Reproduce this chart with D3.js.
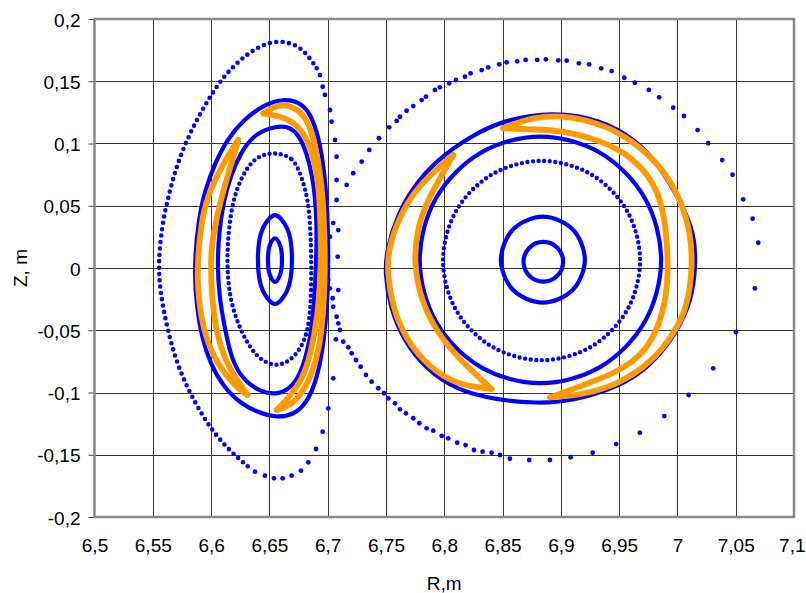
<!DOCTYPE html>
<html>
<head>
<meta charset="utf-8">
<script src="https://cdn.jsdelivr.net/npm/d3@7"></script>
<style>
  body { margin: 0; background: #fff; }
  svg text { font-family: "Liberation Sans", Arial, sans-serif; font-size: 19px; fill: #000; }
</style>
</head>
<body>
<div id="chart"></div>
<script>
// tick values
const xTicks = [6.5, 6.55, 6.6, 6.65, 6.7, 6.75, 6.8, 6.85, 6.9, 6.95, 7, 7.05, 7.1];
const yTicks = [-0.2, -0.15, -0.1, -0.05, 0, 0.05, 0.1, 0.15, 0.2];

// left island, closed curves [R, Z]
const leftCore = [[6.6608,0.0064],[6.659,0.0188],[6.6548,0.0239],[6.6506,0.0188],[6.6488,0.0064],[6.6506,-0.006],[6.6548,-0.0111],[6.659,-0.006]];
const leftRing2 = [[6.6694,0.0068],[6.6651,0.032],[6.6548,0.0425],[6.6445,0.032],[6.6402,0.0068],[6.6445,-0.0184],[6.6548,-0.0289],[6.6651,-0.0184]];
const leftRing3 = [[6.6548,0.0928],[6.6705,0.0894],[6.6777,0.0733],[6.6834,0.0546],[6.6855,0.0279],[6.686,0.001],[6.6858,-0.0257],[6.6831,-0.0538],[6.672,-0.0723],[6.6563,-0.0803],[6.6385,-0.0723],[6.6248,-0.0498],[6.6162,-0.0257],[6.6136,0],[6.6145,0.0265],[6.619,0.0578],[6.6305,0.0814],[6.6419,0.0908]];
const leftRing4 = [[6.6563,0.1141],[6.6677,0.1135],[6.6762,0.1055],[6.682,0.0921],[6.6863,0.0761],[6.6893,0.0573],[6.6905,0.0359],[6.6905,0.0145],[6.6895,-0.0096],[6.6877,-0.0364],[6.6848,-0.0578],[6.6791,-0.0793],[6.6705,-0.0953],[6.6576,-0.102],[6.6419,-0.0994],[6.6276,-0.09],[6.6177,-0.0739],[6.612,-0.0498],[6.607,-0.0231],[6.6053,0.0038],[6.607,0.0305],[6.611,0.0546],[6.6165,0.0733],[6.625,0.0921],[6.6375,0.1082]];
const leftEdge = [[6.6619,0.1363],[6.6791,0.1323],[6.6877,0.1189],[6.6934,0.1002],[6.6968,0.0787],[6.6991,0.0573],[6.7,0.0359],[6.7005,0.0171],[6.7005,-0.0096],[6.6991,-0.0364],[6.6962,-0.0632],[6.6906,-0.09],[6.682,-0.1087],[6.6705,-0.1181],[6.6563,-0.12],[6.6419,-0.1167],[6.6248,-0.1087],[6.6105,-0.0953],[6.5991,-0.0765],[6.5919,-0.0552],[6.5877,-0.0311],[6.5853,-0.0016],[6.589,0.0386],[6.5948,0.0627],[6.6033,0.0841],[6.6134,0.1028],[6.6276,0.1189],[6.6448,0.1309]];
// island chain crescents: outer and inner edges, tip to tip
const leftCrescentWOuter = [[6.6233,0.1028],[6.6105,0.0841],[6.5991,0.0627],[6.5919,0.0412],[6.5879,0.001],[6.589,-0.0231],[6.5933,-0.0498],[6.6019,-0.0712],[6.6134,-0.0873],[6.6248,-0.098],[6.6312,-0.102]];
const leftCrescentWInner = [[6.6312,-0.102],[6.6162,-0.0819],[6.6076,-0.0632],[6.6019,-0.0364],[6.5999,-0.0096],[6.5999,0.0145],[6.6033,0.0332],[6.6076,0.052],[6.6148,0.0761],[6.6233,0.1028]];
const leftCrescentEOuter = [[6.6448,0.1242],[6.6591,0.1328],[6.6758,0.1275],[6.6842,0.1156],[6.6898,0.097],[6.6946,0.0705],[6.6966,0.0439],[6.6976,0.0171],[6.6976,-0.0096],[6.6962,-0.0364],[6.6932,-0.0632],[6.687,-0.0842],[6.6787,-0.1],[6.6677,-0.1108],[6.6563,-0.1141]];
const leftCrescentEInner = [[6.6563,-0.1141],[6.6648,-0.106],[6.6762,-0.0926],[6.6834,-0.0765],[6.6895,-0.0498],[6.693,-0.0231],[6.6945,0.0091],[6.6935,0.052],[6.6905,0.0787],[6.6845,0.1002],[6.6734,0.1162],[6.6591,0.1221],[6.6448,0.1242]];

// right island, closed curves [R, Z]
const rightCore = [[6.902,0.005],[6.897,0.0163],[6.885,0.021],[6.873,0.0163],[6.868,0.005],[6.873,-0.0063],[6.885,-0.011],[6.897,-0.0063]];
const rightRing2 = [[6.9206,0.0067],[6.9101,0.0311],[6.8846,0.0412],[6.8591,0.0311],[6.8486,0.0067],[6.8591,-0.0177],[6.8846,-0.0278],[6.9101,-0.0177]];
const rightRing3 = [[6.968,0.006],[6.9567,0.046],[6.9258,0.0753],[6.8835,0.086],[6.8412,0.0753],[6.8103,0.046],[6.799,0.006],[6.8103,-0.034],[6.8412,-0.0633],[6.8835,-0.074],[6.9258,-0.0633],[6.9567,-0.034]];
const rightRing4 = [[6.986,0.0065],[6.9721,0.056],[6.9343,0.0922],[6.8825,0.1055],[6.8307,0.0922],[6.7929,0.056],[6.779,0.0065],[6.7929,-0.043],[6.8307,-0.0792],[6.8825,-0.0925],[6.9343,-0.0792],[6.9721,-0.043]];
const rightEdge = [[6.8935,0.1255],[6.9335,0.1195],[6.965,0.1028],[6.9849,0.0814],[7.0021,0.0546],[7.0149,0.0279],[7.0158,0.001],[7.0122,-0.0257],[6.9993,-0.0524],[6.9764,-0.0793],[6.9507,-0.0953],[6.9078,-0.1074],[6.8792,-0.1087],[6.8449,-0.106],[6.8106,-0.098],[6.7849,-0.0819],[6.7648,-0.0578],[6.7534,-0.0311],[6.7491,-0.0043],[6.7506,0.0145],[6.7592,0.0412],[6.7734,0.0653],[6.7935,0.0867],[6.822,0.1055],[6.8506,0.1189]];
const rightCrescentSWOuter = [[6.8077,0.0908],[6.776,0.0652],[6.7605,0.0392],[6.752,0.0145],[6.7512,-0.004],[6.7555,-0.0308],[6.7667,-0.0568],[6.7866,-0.0795],[6.8112,-0.0942],[6.8406,-0.0972]];
const rightCrescentSWInner = [[6.8406,-0.0972],[6.816,-0.0763],[6.7937,-0.0522],[6.78,-0.0257],[6.7736,0.0048],[6.7774,0.0345],[6.786,0.0546],[6.7989,0.0763],[6.8077,0.0908]];
const rightCrescentNEOuter = [[6.8506,0.1122],[6.8763,0.1215],[6.905,0.1228],[6.9385,0.1148],[6.9665,0.099],[6.9892,0.0778],[7.0032,0.054],[7.0115,0.0276],[7.013,0.001],[7.0088,-0.0305],[6.9978,-0.0518],[6.9782,-0.0758],[6.9475,-0.0945],[6.9164,-0.1022],[6.8907,-0.1039]];
const rightCrescentNEInner = [[6.8907,-0.1039],[6.9249,-0.0924],[6.9564,-0.0803],[6.9792,-0.0605],[6.9907,-0.0257],[6.9921,0.001],[6.9907,0.0279],[6.985,0.0627],[6.9621,0.0894],[6.9335,0.1028],[6.8992,0.1108],[6.875,0.1112],[6.8506,0.1122]];

// outer chaotic layer: left lobe (dense stretch drawn as dotted line) and single dots
const leftLobeDense = [[6.6906,0.1604],[6.682,0.1724],[6.672,0.1799],[6.6591,0.1823],[6.6477,0.1805],[6.6362,0.1751],[6.6248,0.1671],[6.6105,0.1537],[6.5982,0.1363],[6.5876,0.1189],[6.5776,0.0994],[6.5696,0.0793],[6.5633,0.0573],[6.5579,0.0345],[6.5547,0.0038],[6.5562,-0.0177],[6.5619,-0.0471],[6.5705,-0.0765],[6.5819,-0.1006],[6.5962,-0.1247],[6.6134,-0.1448],[6.6319,-0.1596]];
const leftLobeDots = [[6.6934,0.155],[6.6957,0.1456],[6.6977,0.139],[6.702,0.1269],[6.7034,0.1175],[6.7063,0.1028],[6.7077,0.0894],[6.7077,0.0707],[6.7091,0.0305],[6.7086,0.0091],[6.7091,-0.0177],[6.7071,-0.0573],[6.7048,-0.0886],[6.7005,-0.1127],[6.6957,-0.1315],[6.69,-0.1454],[6.6834,-0.1561],[6.6771,-0.1628],[6.6691,-0.1668],[6.6614,-0.1689],[6.6539,-0.1689],[6.6462,-0.1668],[6.6377,-0.1636]];
const rightLobeDots = [[6.7077,0.0546],[6.7163,0.0667],[6.7219,0.0761],[6.7292,0.0854],[6.7357,0.0948],[6.744,0.1042],[6.7528,0.113],[6.7592,0.1181],[6.762,0.1215],[6.7677,0.1263],[6.7734,0.1301],[6.7806,0.1349],[6.7843,0.1376],[6.792,0.143],[6.7963,0.1451],[6.8043,0.1484],[6.81,0.151],[6.8177,0.1537],[6.8226,0.1564],[6.8321,0.159],[6.8377,0.1612],[6.8472,0.1636],[6.8535,0.1652],[6.8626,0.166],[6.8698,0.1671],[6.8797,0.1671],[6.8872,0.1676],[6.8978,0.1668],[6.905,0.1665],[6.9155,0.1644],[6.9243,0.1636],[6.9346,0.1604],[6.9436,0.1582],[6.9544,0.1528],[6.9635,0.1488],[6.9755,0.143],[6.9844,0.1371],[6.9964,0.1287],[7.0056,0.1221],[7.0173,0.1108],[7.0264,0.1002],[7.0384,0.0867],[7.0473,0.0749],[7.0564,0.0552],[7.0645,0.0396],[7.0693,0.0203],[7.0665,-0.0163],[7.0502,-0.0516],[7.0307,-0.0806],[7.0096,-0.102],[6.9887,-0.1189],[6.9678,-0.1323],[6.9475,-0.1414],[6.9273,-0.1484],[6.9084,-0.152],[6.8906,-0.1542],[6.8729,-0.1542],[6.8563,-0.1532],[6.8478,-0.1502],[6.8406,-0.1484],[6.8329,-0.1475],[6.8255,-0.1462],[6.8183,-0.1422],[6.8111,-0.1403],[6.8034,-0.1368],[6.7978,-0.1349],[6.7906,-0.1307],[6.7849,-0.1288],[6.7786,-0.1247],[6.7734,-0.1207],[6.7671,-0.1167],[6.762,-0.1135],[6.7577,-0.1087],[6.752,-0.1047],[6.7483,-0.1006],[6.7434,-0.0966],[6.7377,-0.0913],[6.7328,-0.0859],[6.7283,-0.0793],[6.7243,-0.0739],[6.7206,-0.0685],[6.7177,-0.0637],[6.7134,-0.0592],[6.7105,-0.0498],[6.7091,-0.0444],[6.7077,-0.0391],[6.7048,-0.0311],[6.7043,-0.0243],[6.702,-0.0163],[6.7005,-0.0096],[6.6991,-0.0016],[6.702,0.0252],[6.7048,0.0361]];

const blue = "#0000ff";
const orange = "#ff9900";

const W = 806, H = 593;
const margin = { top: 19, right: 12, bottom: 76, left: 94.5 };

const svg = d3.select("#chart").append("svg")
  .attr("width", W)
  .attr("height", H);

const x = d3.scaleLinear().domain([6.5, 7.1]).range([margin.left, W - margin.right]);
const y = d3.scaleLinear().domain([-0.2, 0.2]).range([H - margin.bottom, margin.top]);

const fmt = (d) => String(+d.toFixed(2)).replace(".", ",");

// grid
svg.append("g")
  .selectAll("line")
  .data(xTicks.slice(1, -1))
  .join("line")
  .attr("x1", (d) => Math.round(x(d)) + 0.5)
  .attr("x2", (d) => Math.round(x(d)) + 0.5)
  .attr("y1", y(0.2))
  .attr("y2", y(-0.2))
  .attr("stroke", "#333")
  .attr("stroke-width", 1);

svg.append("g")
  .selectAll("line")
  .data(yTicks.slice(1, -1))
  .join("line")
  .attr("x1", x(6.5))
  .attr("x2", x(7.1))
  .attr("y1", (d) => Math.round(y(d)) + 0.5)
  .attr("y2", (d) => Math.round(y(d)) + 0.5)
  .attr("stroke", "#333")
  .attr("stroke-width", 1);

// y axis
const yAxis = svg.append("g")
  .attr("transform", `translate(${x(6.5)},0)`)
  .call(d3.axisLeft(y).tickValues(yTicks).tickSize(6).tickPadding(8).tickFormat(fmt));
yAxis.select(".domain").remove();
yAxis.selectAll("line").attr("stroke", "#444");
yAxis.selectAll("text").attr("dy", "0.38em").style("font-size", "19px");

// x axis (labels only)
const xAxis = svg.append("g")
  .attr("transform", `translate(0,${y(-0.2)})`)
  .call(d3.axisBottom(x).tickValues(xTicks).tickSize(0).tickPadding(22).tickFormat(fmt));
xAxis.select(".domain").remove();
xAxis.selectAll("text").style("font-size", "19px");
// last label sits at the window edge
xAxis.selectAll("text")
  .filter((d) => d === 7.1)
  .attr("text-anchor", "end")
  .attr("x", 11);

// frame
svg.append("rect")
  .attr("x", x(6.5))
  .attr("y", y(0.2))
  .attr("width", x(7.1) - x(6.5))
  .attr("height", y(-0.2) - y(0.2))
  .attr("fill", "none")
  .attr("stroke", "#888")
  .attr("stroke-width", 2.5);

// axis titles
svg.append("text")
  .attr("x", (x(6.5) + x(7.1)) / 2)
  .attr("y", 590)
  .attr("text-anchor", "middle")
  .text("R,m");

svg.append("text")
  .attr("transform", `translate(27,${y(0)}) rotate(-90)`)
  .attr("text-anchor", "middle")
  .text("Z, m");

const plot = svg.append("g");

const lineWith = (curve) => d3.line()
  .x((d) => x(d[0]))
  .y((d) => y(d[1]))
  .curve(curve);

const roundClosed = lineWith(d3.curveCatmullRomClosed.alpha(0.5));
const smoothClosed = lineWith(d3.curveBasisClosed);
const smoothOpen = lineWith(d3.curveBasis);

// chaotic layer dots
plot.append("path")
  .datum(leftLobeDense)
  .attr("d", smoothOpen)
  .attr("fill", "none")
  .attr("stroke", blue)
  .attr("stroke-width", 4.6)
  .attr("stroke-linecap", "round")
  .attr("stroke-dasharray", "0 6.4");

plot.selectAll(".dot")
  .data(leftLobeDots.concat(rightLobeDots))
  .join("circle")
  .attr("class", "dot")
  .attr("cx", (d) => x(d[0]))
  .attr("cy", (d) => y(d[1]))
  .attr("r", 2.4)
  .attr("fill", blue);

// dotted rings
[[leftRing3, smoothClosed], [rightRing3, roundClosed]].forEach(([ring, gen]) => {
  plot.append("path")
    .datum(ring)
    .attr("d", gen)
    .attr("fill", "none")
    .attr("stroke", blue)
    .attr("stroke-width", 4.4)
    .attr("stroke-linecap", "round")
    .attr("stroke-dasharray", "0 5.6");
});

// solid-looking rings
[
  [leftCore, roundClosed], [leftRing2, roundClosed], [leftRing4, smoothClosed], [leftEdge, smoothClosed],
  [rightCore, roundClosed], [rightRing2, roundClosed], [rightRing4, roundClosed], [rightEdge, smoothClosed]
].forEach(([ring, gen]) => {
  plot.append("path")
    .datum(ring)
    .attr("d", gen)
    .attr("fill", "none")
    .attr("stroke", blue)
    .attr("stroke-width", 4.2);
});

// island chains
[
  leftCrescentWOuter, leftCrescentWInner, leftCrescentEOuter, leftCrescentEInner,
  rightCrescentSWOuter, rightCrescentSWInner, rightCrescentNEOuter, rightCrescentNEInner
].forEach((edge) => {
  plot.append("path")
    .datum(edge)
    .attr("d", smoothOpen)
    .attr("fill", "none")
    .attr("stroke", orange)
    .attr("stroke-width", 5.8)
    .attr("stroke-linecap", "round")
    .attr("stroke-linejoin", "round");
});
</script>
</body>
</html>
